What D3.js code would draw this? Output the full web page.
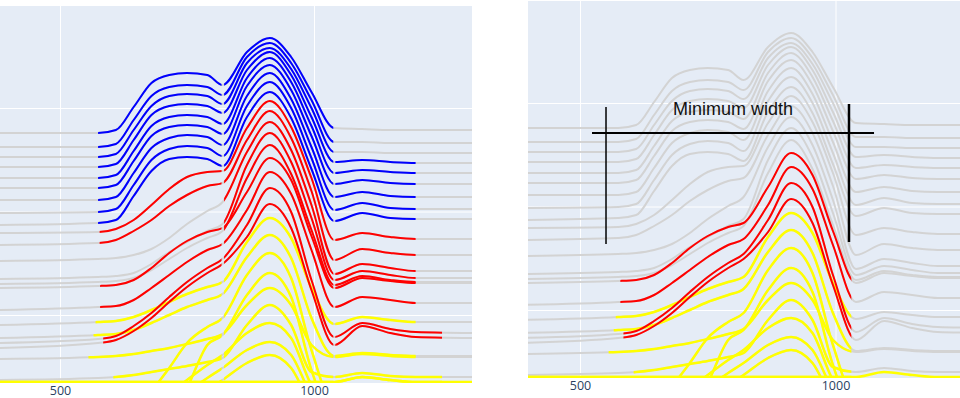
<!DOCTYPE html>
<html><head><meta charset="utf-8">
<script src="https://cdn.jsdelivr.net/npm/d3@7"></script>
<style>body{margin:0;background:#fff} svg{display:block}</style>
</head><body>
<svg id="chart" width="960" height="398"></svg>
<script>
// ---------- DATA ----------
const wavelengths = [380, 575, 610, 645, 680, 715, 750, 790, 820, 868, 913, 955, 995, 1040, 1095, 1150, 1200, 1311];

const spectrumNames = ["S1","S2","S3","S4","S5","S6","S7","S8","S9","S10","S11","S12","S13","S14","S15","S16","S17","S18","S19","S20","S21","S22","Y1","Y2","Y3","Y4","Y5","S23"];

const spectrumValues = [
  [250,250,253,276,300,308,310,308,298,331,345,326,291,255,254,253,253,253],
  [236,236,239,263,287,296,298,296,288,326,340,320,283,241,241,240,240,240],
  [226,226,229,253,277,287,289,287,279,320,335,314,275,231,231,230,230,230],
  [216,216,219,243,268,277,279,277,270,313,331,308,266,221,223,221,220,220],
  [205,205,208,232,257,266,268,266,259,305,325,301,257,210,213,211,210,210],
  [195,195,198,222,247,256,258,256,249,297,318,293,247,199,203,200,199,199],
  [183,183,186,210,235,245,248,246,238,287,310,284,236,186,191,187,186,186],
  [170,171,174,198,223,234,237,235,227,277,301,275,225,173,180,175,174,174],
  [158,160,163,187,212,224,226,224,217,266,291,265,214,162,170,165,164,164],
  [150,151,154,163,178,194,206,211,212,255,282,256,205,143,150,146,144,144],
  [138,140,143,152,163,177,188,197,200,243,272,245,192,123,134,130,128,128],
  [122,124,125,128,134,145,159,172,181,231,261,233,178,109,119,115,112,112],
  [104,106,107,110,119,131,141,152,159,218,250,221,165,103,112,108,105,105],
  [99,101,102,105,113,124,135,145,152,205,238,209,153,98,107,103,101,101],
  [95,97,98,103,115,130,142,151,155,191,225,203,147,95,105,102,100,100],
  [73,76,77,83,95,108,121,133,139,173,211,189,133,76,86,83,80,80],
  [58,61,62,66,73,81,89,96,101,141,165,145,95,59,66,63,61,61],
  [45,48,49,53,60,68,76,83,89,126,148,125,65,27,30,28,27,27],
  [40,44,47,57,70,86,101,115,124,158,195,171,103,46,60,54,51,50],
  [35,40,43,52,65,81,96,110,119,146,179,155,93,38,57,50,46,45],
  [24,26,27,29,32,35,39,44,49,78,95,78,38,26,29,27,26,26],
  [3,5,6,8,11,14,17,21,25,58,78,58,11,6,10,7,6,6],
  [-49,-47,-47,-37,-9,15,40,56,65,108,130,105,33,-22,-12,-17,-19,-19],
  [-69,-67,-67,-65,-57,-35,-5,38,48,88,110,86,13,-37,-27,-32,-34,-34],
  [-29,-27,-27,-25,-19,-10,3,18,28,50,60,45,-2,-22,-15,-19,-21,-21],
  [-42,-39,-38,-36,-30,-21,-9,5,15,33,41,28,-12,-32,-25,-29,-31,-31],
  [-57,-54,-53,-50,-44,-35,-22,-7,3,20,28,15,-22,-42,-35,-39,-41,-41],
  [1,1,1,1,1,1,1,1,1,1,1,1,1,1,6,3,1,1]
];

// window colour codes: b = blue, r = red, y = yellow, g = not highlighted
const leftWindow1Colors = ["b","b","b","b","b","b","b","b","b","r","r","g","g","g","r","r","y","y","r","r","y","y","y","y","y","y","y","y"];
const leftWindow2Colors = ["b","b","b","b","b","b","b","b","b","r","r","r","r","r","r","r","y","y","r","r","y","y","y","y","y","y","y","y"];
const leftWindow3Colors = ["g","g","g","b","b","b","b","b","b","r","r","r","r","r","r","r","y","y","r","r","y","y","y","y","y","y","y","y"];
const rightWindowColors = ["g","g","g","g","g","g","g","g","g","g","g","g","g","g","r","r","y","y","r","r","y","y","y","y","y","y","y","y"];
const baseColors        = ["g","g","g","g","g","g","g","g","g","g","g","g","g","g","g","g","g","g","g","g","g","g","g","g","g","g","g","y"];

const windowStarts = [575,575,575,575,575,575,575,575,575,578,578,578,578,578,579,579,570,566,585,585,556,605,600,600,600,600,600,380];
const window3Ends  = [1200,1200,1200,1200,1200,1200,1200,1200,1200,1200,1200,1200,1200,1200,1200,1200,1200,1200,1252,1252,1200,1252,1200,1200,1200,1200,1200,1252];
const window1End = 818;
const window2Range = [823, 1038];
const window3Start = 1042;
const rightWindowEnd = 1031;

const xTickValues = [500, 1000];
const yGridValues = [68, 171.5, 275];

const annotationText = "Minimum width";
const annotationHLineX = [523.5, 1075.4];
const annotationHLineY = 245;
const annotationLeftX = 550.9;
const annotationLeftY = [134, 271];
const annotationRightX = 1026.4;
const annotationRightY = [136, 274];
const annotationTextPos = [799.4, 263];

// ---------- DRAWING ----------
const colorMap = {b: "#0000ff", r: "#ff0000", y: "#ffff00", g: "#d3d3d3"};
const svg = d3.select("#chart");
const defs = svg.append("defs");

const panels = [
  {id: "L", clip: [0, 472, 6, 383], xr: [60, 314], yr: [383, 6], right: false, pad: 3},
  {id: "R", clip: [528, 960, 1, 378], xr: [580, 835.5], yr: [378, 1], right: true, pad: 3}
];

const series = spectrumValues.map(vals => vals.map((v, i) => [wavelengths[i], v]));

panels.forEach(p => {
  const [x0, x1, y0, y1] = p.clip;
  const x = d3.scaleLinear().domain([500, 1000]).range(p.xr);
  const y = d3.scaleLinear().domain([0, 377]).range(p.yr);
  const g = svg.append("g");

  g.append("rect").attr("x", x0).attr("y", y0).attr("width", x1 - x0).attr("height", y1 - y0).attr("fill", "#e5ecf6");

  defs.append("clipPath").attr("id", "plot" + p.id)
    .append("rect").attr("x", x0).attr("y", y0).attr("width", x1 - x0).attr("height", y1 - y0);

  // grid lines through axes
  const gx = g.append("g").attr("transform", `translate(0,${y1})`)
    .call(d3.axisBottom(x).tickValues(xTickValues).tickSize(-(y1 - y0)).tickFormat(""));
  gx.select(".domain").remove();
  gx.selectAll("line").attr("stroke", "#ffffff").attr("stroke-width", 1);

  const gy = g.append("g").attr("transform", `translate(${x0},0)`)
    .call(d3.axisLeft(y).tickValues(yGridValues).tickSize(-(x1 - x0)).tickFormat(""));
  gy.select(".domain").remove();
  gy.selectAll("line").attr("stroke", "#ffffff").attr("stroke-width", 1);

  const line = d3.line().x(d => x(d[0])).y(d => y(d[1])).curve(d3.curveMonotoneX);
  const lines = g.append("g").attr("clip-path", `url(#plot${p.id})`);

  // base traces
  series.forEach((s, i) => {
    lines.append("path").attr("d", line(s)).attr("fill", "none")
      .attr("stroke", colorMap[baseColors[i]])
      .attr("stroke-width", baseColors[i] === "y" ? 2.5 : 2);
  });

  // highlighted windows
  series.forEach((s, i) => {
    let wins;
    if (!p.right) {
      wins = [
        [windowStarts[i], window1End, leftWindow1Colors[i]],
        [window2Range[0], window2Range[1], leftWindow2Colors[i]],
        [window3Start, window3Ends[i], leftWindow3Colors[i]]
      ];
    } else {
      wins = [[windowStarts[i], rightWindowEnd, rightWindowColors[i]]];
    }
    wins.forEach((w, k) => {
      if (w[2] === "g") return;
      const cid = `w${p.id}${i}_${k}`;
      defs.append("clipPath").attr("id", cid).append("rect")
        .attr("x", x(w[0])).attr("width", x(w[1]) - x(w[0]))
        .attr("y", y0).attr("height", y1 - y0);
      lines.append("g").attr("clip-path", `url(#${cid})`)
        .append("path").attr("d", line(s)).attr("fill", "none")
        .attr("stroke", colorMap[w[2]])
        .attr("stroke-width", w[2] === "y" ? 2.5 : 2);
    });
  });

  // tick labels
  const ax = g.append("g").attr("transform", `translate(0,${y1})`)
    .call(d3.axisBottom(x).tickValues(xTickValues).tickSize(0).tickPadding(p.pad).tickFormat(d3.format("d")));
  ax.select(".domain").remove();
  ax.selectAll("text").attr("font-family", "'Open Sans', Arial, sans-serif").attr("font-size", 12.5).attr("fill", "#2a3f5f");

  if (p.right) {
    const a = g.append("g");
    a.append("line").attr("x1", x(annotationHLineX[0])).attr("x2", x(annotationHLineX[1]))
      .attr("y1", y(annotationHLineY)).attr("y2", y(annotationHLineY)).attr("stroke", "#000").attr("stroke-width", 2);
    a.append("line").attr("x1", x(annotationLeftX)).attr("x2", x(annotationLeftX))
      .attr("y1", y(annotationLeftY[0])).attr("y2", y(annotationLeftY[1])).attr("stroke", "#000").attr("stroke-width", 1.5);
    a.append("line").attr("x1", x(annotationRightX)).attr("x2", x(annotationRightX))
      .attr("y1", y(annotationRightY[0])).attr("y2", y(annotationRightY[1])).attr("stroke", "#000").attr("stroke-width", 2.5);
    a.append("text").attr("x", x(annotationTextPos[0])).attr("y", y(annotationTextPos[1]))
      .attr("text-anchor", "middle").attr("font-family", "'Liberation Sans', Arial, sans-serif")
      .attr("font-size", 18).attr("fill", "#111").text(annotationText);
  }
});
</script>
</body></html>
